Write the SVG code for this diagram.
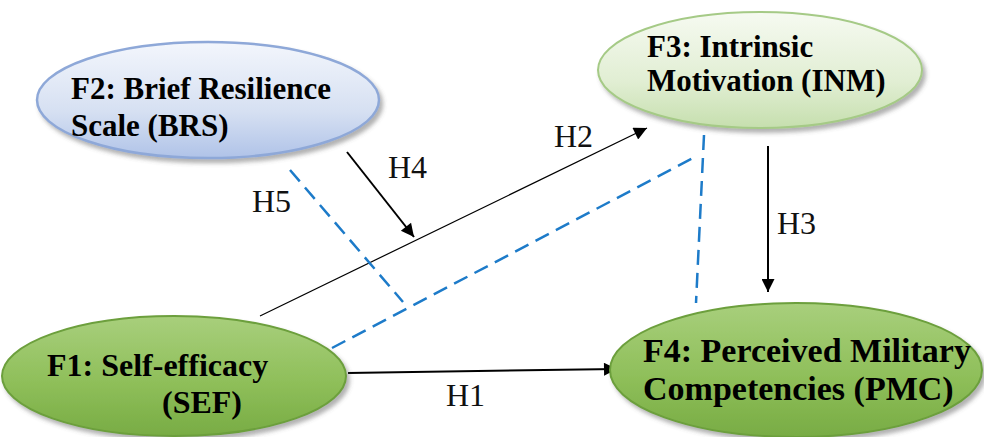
<svg xmlns="http://www.w3.org/2000/svg" width="984" height="437" viewBox="0 0 984 437">
<style>
.node-text{font-family:"Liberation Serif","Times New Roman",serif;font-weight:bold;font-size:31px;fill:#000;}
.lbl{font-family:"Liberation Serif","Times New Roman",serif;font-size:32px;fill:#111;}
.arrow{stroke:#000;stroke-width:2;fill:none;}
.thin{stroke:#000;stroke-width:1.2;fill:none;}
.dash{stroke:#1d7bc9;stroke-width:2.5;fill:none;stroke-dasharray:15 8;}
</style>
<defs>
<marker id="ah" viewBox="0 0 10 10" refX="10" refY="5" markerWidth="18" markerHeight="13" markerUnits="userSpaceOnUse" orient="auto">
<path d="M0,0 L10,5 L0,10 z" fill="#000"/>
</marker>
<linearGradient id="gBlue" x1="0" y1="0" x2="0" y2="1">
<stop offset="0" stop-color="#f3f6fc"/>
<stop offset="0.6" stop-color="#d6e0f2"/>
<stop offset="1" stop-color="#b0c3e8"/>
</linearGradient>
<linearGradient id="gLight" x1="0" y1="0" x2="0" y2="1">
<stop offset="0" stop-color="#f6faf1"/>
<stop offset="0.6" stop-color="#e1eed3"/>
<stop offset="1" stop-color="#c6dfae"/>
</linearGradient>
<linearGradient id="gGreen" x1="0" y1="0" x2="0" y2="1">
<stop offset="0" stop-color="#a8cf7c"/>
<stop offset="0.55" stop-color="#8fbf5a"/>
<stop offset="1" stop-color="#78ac44"/>
</linearGradient>
<filter id="sh" x="-10%" y="-10%" width="125%" height="135%">
<feDropShadow dx="3" dy="4" stdDeviation="2" flood-color="#555" flood-opacity="0.45"/>
</filter>
</defs>
<rect width="984" height="437" fill="#fff"/>

<g id="connectors">
<line class="arrow" x1="348" y1="373" x2="617" y2="369" marker-end="url(#ah)"/>
<line class="thin" x1="260" y1="316" x2="647" y2="128" marker-end="url(#ah)"/>
<line class="arrow" x1="768" y1="146" x2="768" y2="292" marker-end="url(#ah)"/>
<line class="arrow" x1="347" y1="152" x2="414" y2="237" marker-end="url(#ah)"/>
<line class="dash" x1="290" y1="170" x2="403" y2="302"/>
<line class="dash" x1="332" y1="348" x2="693" y2="158"/>
<line class="dash" x1="704" y1="135" x2="696" y2="303"/>
<text class="lbl" x="446" y="406">H1</text>
<text class="lbl" x="554" y="147">H2</text>
<text class="lbl" x="777" y="234">H3</text>
<text class="lbl" x="388" y="178">H4</text>
<text class="lbl" x="252" y="212">H5</text>
</g>

<g id="F2">
<ellipse cx="208" cy="100" rx="171" ry="58" fill="url(#gBlue)" stroke="#8ea8d8" stroke-width="2.5" filter="url(#sh)"/>
<text class="node-text" x="71" y="99">F2: Brief Resilience</text>
<text class="node-text" x="71" y="136">Scale (BRS)</text>
</g>

<g id="F3">
<ellipse cx="760" cy="70" rx="162" ry="58" fill="url(#gLight)" stroke="#a5ca86" stroke-width="2" filter="url(#sh)"/>
<text class="node-text" x="647" y="57">F3: Intrinsic</text>
<text class="node-text" x="647" y="91">Motivation (INM)</text>
</g>

<g id="F1">
<ellipse cx="174" cy="376" rx="172" ry="60" fill="url(#gGreen)" stroke="#6c9f3c" stroke-width="2" filter="url(#sh)"/>
<text class="node-text" x="47" y="376" style="font-size:32px">F1: Self-efficacy</text>
<text class="node-text" x="162" y="413" style="font-size:32px">(SEF)</text>
</g>

<g id="F4">
<ellipse cx="796" cy="370" rx="186" ry="67" fill="url(#gGreen)" stroke="#6c9f3c" stroke-width="2" filter="url(#sh)"/>
<text class="node-text" x="643" y="362" style="font-size:34px">F4: Perceived Military</text>
<text class="node-text" x="643" y="400" style="font-size:34px">Competencies (PMC)</text>
</g>
</svg>
